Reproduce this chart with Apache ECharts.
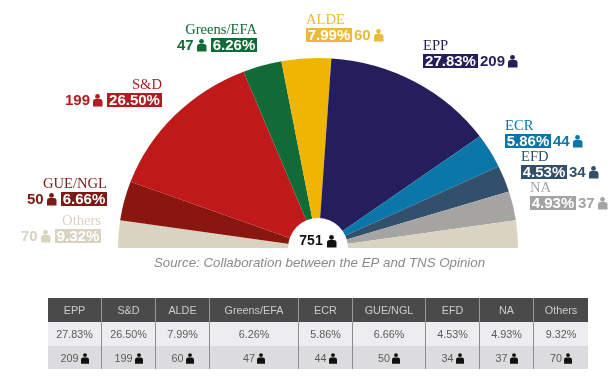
<!DOCTYPE html>
<html>
<head>
<meta charset="utf-8">
<script src="https://cdn.jsdelivr.net/npm/echarts@6/dist/echarts.min.js"></script>
<style>
  html, body { margin: 0; padding: 0; background: #fff; }
  #chart { position: absolute; left: 0; top: 0; width: 613px; height: 379px; }
  #seats { position: absolute; left: 48px; top: 298px; border-collapse: separate; border-spacing: 0; table-layout: fixed; width: 540px;
    font: 10.8px "Liberation Sans", Arial, sans-serif; color: #5a5a5a; text-align: center; }
  #seats td { padding: 0; box-sizing: border-box; border-left: 1px solid #8c8c8c; }
  #seats td:first-child { border-left: 0; }
  #seats tr.head td { background: #4a4a4a; color: #ccc; height: 24px; border-left-color: #999; }
  #seats tr.pct td { background: #ededef; height: 24px; }
  #seats tr.num td { background: #dcdcde; height: 23px; }
  #seats svg { vertical-align: -2px; margin-left: 2px; }
</style>
</head>
<body>
<div id="chart"></div>
<table id="seats"></table>
<script>
// hemicycle, left to right (Others sits on both ends)
const sliceNames = ['Others', 'GUE/NGL', 'S&D', 'Greens/EFA', 'ALDE', 'EPP', 'ECR', 'EFD', 'NA', 'Others']
const sliceSeats = [35, 50, 199, 47, 60, 209, 44, 34, 37, 35]
const sliceColors = ['#d9d3c1', '#8a1610', '#bf1919', '#116b36', '#eeb502', '#241f5c', '#0b76a8', '#32506b', '#a6a3a3', '#d9d3c1']

// table columns
const parties = ['EPP', 'S&D', 'ALDE', 'Greens/EFA', 'ECR', 'GUE/NGL', 'EFD', 'NA', 'Others']
const percents = ['27.83%', '26.50%', '7.99%', '6.26%', '5.86%', '6.66%', '4.53%', '4.93%', '9.32%']
const seats = [209, 199, 60, 47, 44, 50, 34, 37, 70]
const columnWidths = [53, 54, 54, 89, 54, 73, 54, 54, 55]
const totalSeats = 751

const labelColors = {
  Others: '#d9d3c1', 'GUE/NGL': '#7c1a16', 'S&D': '#b01c20', 'Greens/EFA': '#116b36', ALDE: '#e8bb3a',
  EPP: '#241f5c', ECR: '#0b76a8', EFD: '#32506b', NA: '#a6a3a3'
}
// x is the label's outer edge of the percent box, y the middle of the number row
const labelSpots = {
  'Greens/EFA': { x: 257, y: 45, align: 'right' },
  'S&D': { x: 162, y: 100, align: 'right' },
  'GUE/NGL': { x: 107, y: 199, align: 'right' },
  Others: { x: 101, y: 236, align: 'right' },
  ALDE: { x: 306, y: 35, align: 'left' },
  EPP: { x: 423, y: 61, align: 'left' },
  ECR: { x: 505, y: 141, align: 'left' },
  EFD: { x: 521, y: 172, align: 'left' },
  NA: { x: 530, y: 203, align: 'left' }
}

const CX = 318
const CY = 248
const SANS = '"Liberation Sans", Arial, sans-serif'
const SERIF = '"Liberation Serif", "Times New Roman", serif'

const person = (x, y, color, z = 0) => ({
  type: 'group',
  x,
  y,
  children: [
    { type: 'circle', z, shape: { cx: 4.5, cy: 2.4, r: 2.4 }, style: { fill: color } },
    { type: 'rect', z, shape: { x: 0, y: 5, width: 9.5, height: 7.5, r: [2.5, 2.5, 0, 0] }, style: { fill: color } }
  ]
})

const partyLabel = (name) => {
  const spot = labelSpots[name]
  const i = parties.indexOf(name)
  const color = labelColors[name]
  const pct = percents[i]
  const num = String(seats[i])
  const boxW = pct.length > 5 ? 55 : 46
  const numW = num.length > 2 ? 25 : 17
  const right = spot.align === 'right'
  const boxX = right ? spot.x - boxW : spot.x
  const numX = right ? boxX - 5 - 9 - 3 - numW : boxX + boxW + 2
  const iconX = right ? boxX - 5 - 9 : numX + numW + 3
  return [
    { type: 'text', x: spot.x, y: spot.y - 15, style: { text: name, fill: color, font: '14.6px ' + SERIF, align: spot.align, verticalAlign: 'middle' } },
    { type: 'rect', shape: { x: boxX, y: spot.y - 7, width: boxW, height: 14 }, style: { fill: color } },
    { type: 'text', x: boxX + boxW / 2, y: spot.y + 0.5, style: { text: pct, fill: '#fff', font: 'bold 15px ' + SANS, align: 'center', verticalAlign: 'middle' } },
    { type: 'text', x: numX, y: spot.y + 0.5, style: { text: num, fill: color, font: 'bold 15px ' + SANS, align: 'left', verticalAlign: 'middle' } },
    person(iconX, spot.y - 6, color)
  ]
}

const seatTotal = sliceSeats.reduce((a, b) => a + b, 0)
const toAngle = (s) => echarts.number.linearMap(s, [0, seatTotal], [Math.PI, 2 * Math.PI])

const chart = echarts.init(document.getElementById('chart'))

chart.setOption({
  animation: false,
  series: [
    {
      type: 'custom',
      coordinateSystem: 'none',
      silent: true,
      data: sliceSeats.map((v, i) => [i, v]),
      renderItem: (params, api) => {
        const i = api.value(0)
        const before = sliceSeats.slice(0, i).reduce((a, b) => a + b, 0)
        const children = [
          {
            type: 'sector',
            x: CX,
            y: CY,
            scaleY: 0.95, // the hemicycle is a little flatter than a true circle
            shape: { cx: 0, cy: 0, r: 200, r0: 0, startAngle: toAngle(before), endAngle: toAngle(before + api.value(1)), clockwise: true },
            style: { fill: sliceColors[i] }
          }
        ]
        if (i < sliceNames.length - 1) children.push(...partyLabel(sliceNames[i]))
        return { type: 'group', children }
      }
    }
  ],
  graphic: [
    { type: 'circle', z: 10, shape: { cx: CX, cy: CY, r: 30 }, style: { fill: '#fff' } },
    { type: 'rect', z: 10, shape: { x: 280, y: 248, width: 76, height: 8 }, style: { fill: '#fff' } },
    { type: 'text', z: 11, x: 311, y: 241, style: { text: String(totalSeats), fill: '#111', font: 'bold 14px ' + SANS, align: 'center', verticalAlign: 'middle' } },
    Object.assign(person(327, 235, '#111', 11), { z: 11 }),
    { type: 'text', z: 11, x: 319.5, y: 263, style: { text: 'Source: Collaboration between the EP and TNS Opinion', fill: '#8a8a8a', font: 'italic 13.3px ' + SANS, align: 'center', verticalAlign: 'middle' } }
  ]
})

const icon = '<svg width="8" height="11" viewBox="0 0 9 12"><circle cx="4.5" cy="2.2" r="2.2" fill="#111"/><path d="M0 12V7.5A2.5 2.5 0 0 1 2.5 5h4A2.5 2.5 0 0 1 9 7.5V12z" fill="#111"/></svg>'
const row = (cls, cells) => `<tr class="${cls}">${cells.map((c, i) => `<td style="width:${columnWidths[i]}px">${c}</td>`).join('')}</tr>`
document.getElementById('seats').innerHTML =
  row('head', parties.map(p => p.replace('&', '&amp;'))) +
  row('pct', percents) +
  row('num', seats.map(n => n + icon))
</script>
</body>
</html>
